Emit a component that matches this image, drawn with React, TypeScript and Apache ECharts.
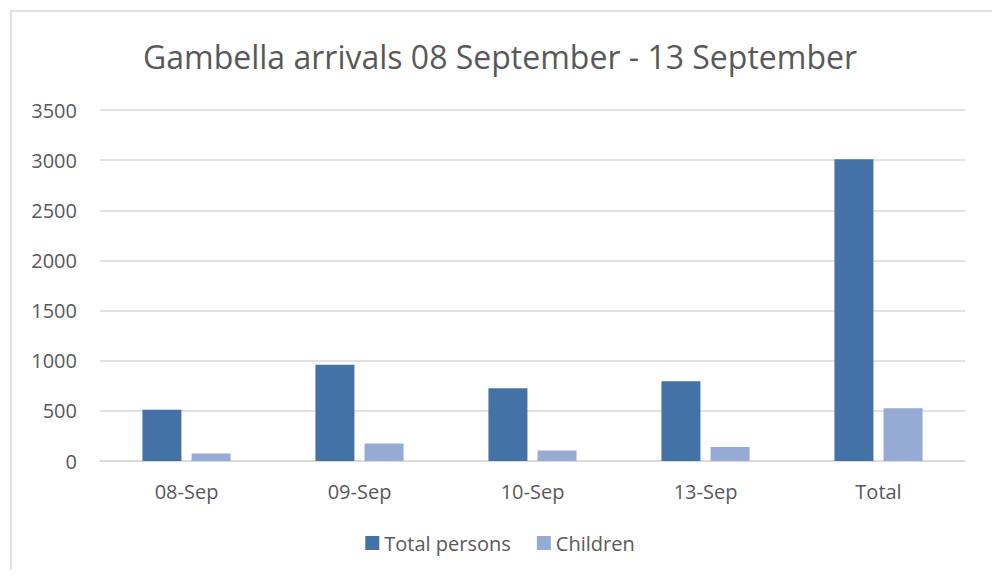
import React, { useEffect, useRef } from "react";
import * as echarts from "echarts";

const categories = ["08-Sep", "09-Sep", "10-Sep", "13-Sep", "Total"];
const totalPersons = [510, 960, 725, 795, 3010];
const children = [75, 175, 105, 140, 525];
const seriesNames = ["Total persons", "Children"];

export default function App() {
  const ref = useRef<HTMLDivElement>(null);
  useEffect(() => {
    const chart = echarts.init(ref.current!, null, { renderer: "svg" });
    const font = "'Open Sans', 'Noto Sans', sans-serif";
    chart.setOption({
      animation: false,
      backgroundColor: "#ffffff",
      title: {
        text: "Gambella arrivals 08 September - 13 September",
        left: "center",
        top: 35,
        textStyle: { fontFamily: font, fontSize: 32, fontWeight: "normal", color: "#595959" },
      },
      graphic: [
        {
          type: "rect",
          shape: { x: 11, y: 11, width: 983, height: 580 },
          style: { fill: "none", stroke: "#d9d9d9", lineWidth: 1.5 },
          silent: true,
        },
      ],
      legend: {
        bottom: 20,
        left: "center",
        itemWidth: 14,
        itemHeight: 14,
        itemGap: 26,
        icon: "rect",
        textStyle: { fontFamily: font, fontSize: 20, color: "#595959" },
        data: seriesNames,
      },
      grid: { left: 100, right: 35, top: 110, bottom: 117, containLabel: false },
      xAxis: {
        type: "category",
        data: categories,
        axisLine: { lineStyle: { color: "#d9d9d9", width: 1.5 } },
        axisTick: { show: false },
        axisLabel: { fontFamily: font, fontSize: 20, color: "#595959", margin: 20 },
      },
      yAxis: {
        type: "value",
        min: 0,
        max: 3500,
        interval: 500,
        axisLine: { show: false },
        axisTick: { show: false },
        splitLine: { lineStyle: { color: "#d9d9d9", width: 1.5 } },
        axisLabel: {
          fontFamily: font,
          fontSize: 20,
          color: "#595959",
          margin: 23,
          formatter: (v: number) => String(v),
        },
      },
      series: [
        {
          name: seriesNames[0],
          type: "bar",
          data: totalPersons,
          barWidth: 39,
          barGap: "26%",
          itemStyle: { color: "#4472a6" },
        },
        {
          name: seriesNames[1],
          type: "bar",
          data: children,
          barWidth: 39,
          itemStyle: { color: "#96abd3" },
        },
      ],
    });
    return () => chart.dispose();
  }, []);
  return <div ref={ref} style={{ width: 1000, height: 578, margin: -8 }} />;
}
